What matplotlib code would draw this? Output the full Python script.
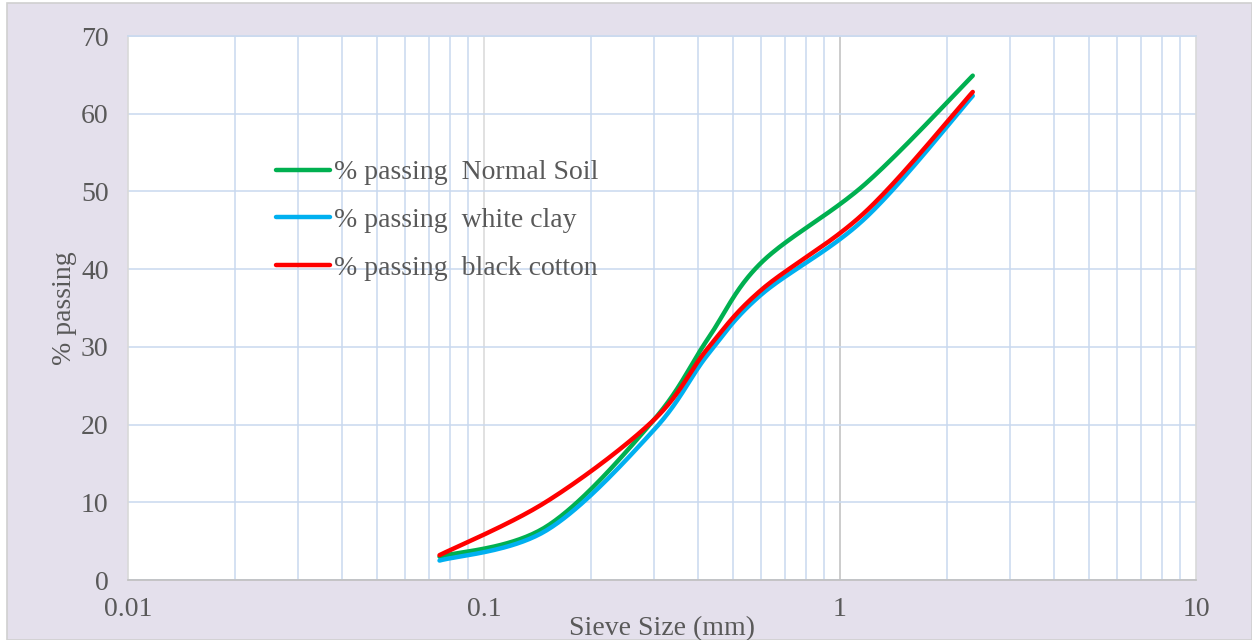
import numpy as np
import matplotlib
matplotlib.use("Agg")
import matplotlib.pyplot as plt
from matplotlib.patches import Rectangle

# sieve analysis results
sieve_mm = [2.36, 1.18, 0.6, 0.425, 0.3, 0.15, 0.075]
normal_soil = [64.9, 51.0, 40.8, 31.0, 20.6, 6.9, 3.0]
white_clay = [62.3, 46.6, 36.7, 29.0, 19.3, 6.4, 2.5]
black_cotton = [62.8, 47.4, 37.3, 29.8, 20.6, 10.1, 3.2]

series = [
    ("% passing  Normal Soil", normal_soil, "#00B050"),
    ("% passing  white clay", white_clay, "#00B0F0"),
    ("% passing  black cotton", black_cotton, "#FF0000"),
]

x_ticks = [0.01, 0.1, 1, 10]
x_ticklabels = ["0.01", "0.1", "1", "10"]
y_ticks = [0, 10, 20, 30, 40, 50, 60, 70]

text_col = "#595959"
fs = 20
plt.rcParams["font.family"] = ["Liberation Serif", "DejaVu Serif"]


def smooth(x, y, n=40):
    """Excel style smoothed line: Catmull-Rom through the points in screen-like units."""
    u = np.log10(np.asarray(x, float)) * 355.5
    v = np.asarray(y, float) * 7.77
    p = np.column_stack([u, v])
    p = np.vstack([p[0], p, p[-1]])
    out = []
    t = np.linspace(0, 1, n)[:, None]
    for i in range(1, len(p) - 2):
        p0, p1, p2, p3 = p[i - 1], p[i], p[i + 1], p[i + 2]
        c1 = p1 + (p2 - p0) / 6
        c2 = p2 - (p3 - p1) / 6
        seg = ((1 - t) ** 3) * p1 + 3 * ((1 - t) ** 2) * t * c1 + 3 * (1 - t) * t ** 2 * c2 + t ** 3 * p2
        out.append(seg if i == 1 else seg[1:])
    out = np.vstack(out)
    return 10 ** (out[:, 0] / 355.5), out[:, 1] / 7.77


fig = plt.figure(figsize=(12.52, 6.4), dpi=100)
fig.patch.set_facecolor("white")
fig.patches.append(Rectangle((7 / 1252, 0), 1 - 7 / 1252, 1 - 3 / 640, transform=fig.transFigure,
                             facecolor="#E4E0EC", edgecolor="#D0D0D0", linewidth=1.2, zorder=-10))

ax = fig.add_axes([128 / 1252, 60 / 640, (1196 - 128) / 1252, (580 - 36) / 640])
ax.set_zorder(1)
ax.set_facecolor("white")

for label, vals, col in series:
    order = np.argsort(sieve_mm)
    xs = np.array(sieve_mm)[order]
    ys = np.array(vals)[order]
    sx, sy = smooth(xs, ys)
    ax.plot(sx, sy, color=col, lw=3.2, solid_capstyle="round", label=label, zorder=3)

ax.set_xscale("log")
ax.set_xlim(0.01, 10)
ax.set_ylim(0, 70)
ax.set_xticks(x_ticks)
ax.set_xticklabels(x_ticklabels)
ax.set_yticks(y_ticks)
ax.xaxis.set_minor_locator(matplotlib.ticker.LogLocator(base=10, subs=np.arange(2, 10)))
ax.xaxis.set_minor_formatter(matplotlib.ticker.NullFormatter())

ax.grid(True, which="minor", axis="x", color="#C9D9EF", lw=1.1, zorder=1)
ax.grid(True, which="major", axis="y", color="#C9D9EF", lw=1.1, zorder=1)
ax.axvline(0.1, color="#D9D9D9", lw=1.1, zorder=1)
ax.axvline(1, color="#BFBFBF", lw=1.1, zorder=1)

ax.spines["left"].set_color("#D9D9D9")
ax.spines["right"].set_color("#D9D9D9")
ax.spines["top"].set_color("#C9D9EF")
ax.spines["bottom"].set_color("#BFBFBF")
for s in ax.spines.values():
    s.set_linewidth(1.2)

ax.tick_params(which="both", length=0, labelsize=fs, colors=text_col)
ax.tick_params(axis="x", pad=12)
ax.tick_params(axis="y", pad=14)

ax.set_xlabel("Sieve Size (mm)", fontsize=fs, color=text_col, labelpad=-4)
ax.set_ylabel("% passing", fontsize=fs, color=text_col, labelpad=3)

ax.legend(loc="upper left", bbox_to_anchor=(276 / 1252, 1 - 160 / 640), bbox_transform=fig.transFigure,
          frameon=False, fontsize=fs, labelcolor=text_col, handlelength=1.95, handletextpad=0.15,
          labelspacing=0.8, borderpad=0, borderaxespad=0)

fig.savefig("out.png", dpi=100, facecolor=fig.get_facecolor())
